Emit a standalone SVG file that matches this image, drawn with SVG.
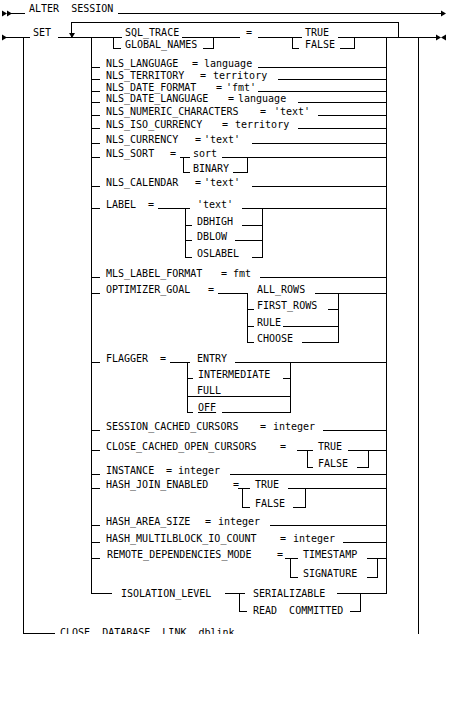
<svg xmlns="http://www.w3.org/2000/svg" xmlns:xlink="http://www.w3.org/1999/xlink" width="450" height="722" viewBox="0 0 450 722">
<style>
text{font-family:"DejaVu Sans Mono","Liberation Mono",monospace;font-size:10px;fill:#000;white-space:pre}
.c{fill:none;stroke:#000;stroke-width:1;shape-rendering:crispEdges}
.m{fill:#000;stroke:none}
</style>
<defs>
<clipPath id="clip"><rect x="0" y="0" width="450" height="634"/></clipPath>
<path id="tr" d="M0,-3 L5,0 L0,3 Z"/>
<path id="tl" d="M5,-3 L0,0 L5,3 Z"/>
<path id="td" d="M-3,0 L3,0 L0,5 Z"/>
</defs>
<rect width="450" height="722" fill="#fff"/>
<g clip-path="url(#clip)">
<g id="connectors" class="c">
<path d="M8,13.5 H25 M118,13.5 H441"/>
<path d="M6,37.5 H30 M58,37.5 H122 M182,37.5 H240 M258,37.5 H302 M338,37.5 H436"/>
<path d="M71.5,37.5 V22.5 H398.5 V37.5"/>
<path d="M23.5,37 V634 M91.5,37 V593.5 M386.5,37 V593.5 M418.5,37 V634"/>
<path d="M113.5,37.5 V48.5 H121 M203,48.5 H213.5 V37.5"/>
<path d="M292.5,37.5 V48.5 H299 M340,48.5 H354.5 V37.5"/>
<path d="M91.5,67.5 H100 M258,67.5 H386.5"/>
<path d="M91.5,79.5 H100 M278,79.5 H386.5"/>
<path d="M91.5,91.5 H100 M258,91.5 H386.5"/>
<path d="M91.5,102.5 H100 M298,102.5 H386.5"/>
<path d="M91.5,115.5 H100 M318,115.5 H386.5"/>
<path d="M91.5,128.5 H100 M298,128.5 H386.5"/>
<path d="M91.5,143.5 H100 M252,143.5 H386.5"/>
<path d="M91.5,157.5 H100 M180,157.5 H190 M222,157.5 H386.5"/>
<path d="M183.5,157.5 V172.5 H190 M233,172.5 H247.5 V157.5"/>
<path d="M91.5,186.5 H100 M252,186.5 H386.5"/>
<path d="M91.5,208.5 H100 M158,208.5 H190 M242,208.5 H386.5"/>
<path d="M185.5,208.5 V257.5 M185.5,225.5 H192 M185.5,240.5 H192 M185.5,257.5 H192"/>
<path d="M262.5,208.5 V257.5 M242,225.5 H262.5 M235,240.5 H262.5 M252,257.5 H262.5"/>
<path d="M91.5,277.5 H100 M260,277.5 H386.5"/>
<path d="M91.5,293.5 H100 M218,293.5 H248 M315,293.5 H386.5"/>
<path d="M247.5,293.5 V342.5 M247.5,309.5 H254 M247.5,326.5 H254 M247.5,342.5 H254"/>
<path d="M338.5,293.5 V342.5 M328,309.5 H338.5 M283,326.5 H338.5 M302,342.5 H338.5"/>
<path d="M91.5,362.5 H100 M170,362.5 H190 M235,362.5 H386.5"/>
<path d="M187.5,362.5 V412.5 M187.5,378.5 H193 M187.5,396.5 H290.5 M187.5,412.5 H193"/>
<path d="M290.5,362.5 V412.5 M283,378.5 H290.5 M222,412.5 H290.5"/>
<path d="M91.5,430.5 H100 M323,430.5 H386.5"/>
<path d="M91.5,450.5 H100 M297,450.5 H313 M348,450.5 H386.5"/>
<path d="M307.5,450.5 V467.5 H313 M357,467.5 H368.5 V450.5"/>
<path d="M91.5,474.5 H100 M230,474.5 H386.5"/>
<path d="M91.5,488.5 H100 M238,488.5 H250 M288,488.5 H386.5"/>
<path d="M242.5,488.5 V507.5 H250 M293,507.5 H305.5 V488.5"/>
<path d="M91.5,525.5 H100 M270,525.5 H386.5"/>
<path d="M91.5,542.5 H100 M343,542.5 H386.5"/>
<path d="M91.5,558.5 H100 M285,558.5 H298 M367,558.5 H386.5"/>
<path d="M290.5,558.5 V577.5 H298 M367,577.5 H377.5 V558.5"/>
<path d="M91.5,593.5 H112 M225,593.5 H245 M337,593.5 H386.5"/>
<path d="M239.5,593.5 V611.5 H247 M350,611.5 H360.5 V593.5"/>
<path d="M23.5,633.5 H55"/>
</g>
<g id="markers" class="m">
<use xlink:href="#tr" x="2" y="13.5"/>
<use xlink:href="#tr" x="7" y="13.5"/>
<use xlink:href="#tr" x="441" y="13.5"/>
<use xlink:href="#tr" x="2" y="37.5"/>
<use xlink:href="#td" x="72" y="33"/>
<use xlink:href="#tr" x="436" y="37.5"/>
<use xlink:href="#tl" x="441" y="37.5"/>
</g>
<g id="n-alter"><text x="29" y="12">ALTER  SESSION</text></g>
<g id="n-set"><text x="33" y="36">SET</text></g>
<g id="n-sqltrace"><text x="125" y="36">SQL_TRACE</text><text x="246" y="36">=</text><text x="305" y="36">TRUE</text></g>
<g id="n-globalnames"><text x="125" y="48">GLOBAL_NAMES</text><text x="305" y="48">FALSE</text></g>
<g id="n-nlslanguage"><text x="106" y="67">NLS_LANGUAGE</text><text x="192" y="67">=</text><text x="204" y="67">language</text></g>
<g id="n-nlsterritory"><text x="106" y="79">NLS_TERRITORY</text><text x="200" y="79">=</text><text x="213" y="79">territory</text></g>
<g id="n-nlsdateformat"><text x="106" y="91">NLS_DATE_FORMAT</text><text x="216" y="91">=</text><text x="226" y="91">'fmt'</text></g>
<g id="n-nlsdatelanguage"><text x="106" y="102">NLS_DATE_LANGUAGE</text><text x="228" y="102">=</text><text x="238" y="102">language</text></g>
<g id="n-nlsnumeric"><text x="106" y="115">NLS_NUMERIC_CHARACTERS</text><text x="260" y="115">=</text><text x="274" y="115">'text'</text></g>
<g id="n-nlsisocurrency"><text x="106" y="128">NLS_ISO_CURRENCY</text><text x="222" y="128">=</text><text x="235" y="128">territory</text></g>
<g id="n-nlscurrency"><text x="106" y="143">NLS_CURRENCY</text><text x="195" y="143">=</text><text x="204" y="143">'text'</text></g>
<g id="n-nlssort"><text x="106" y="157">NLS_SORT</text><text x="170" y="157">=</text><text x="193" y="157">sort</text><text x="193" y="172">BINARY</text></g>
<g id="n-nlscalendar"><text x="106" y="186">NLS_CALENDAR</text><text x="195" y="186">=</text><text x="204" y="186">'text'</text></g>
<g id="n-label"><text x="106" y="208">LABEL</text><text x="148" y="208">=</text><text x="197" y="208">'text'</text><text x="197" y="225">DBHIGH</text><text x="197" y="240">DBLOW</text><text x="197" y="257">OSLABEL</text></g>
<g id="n-mlslabelformat"><text x="106" y="277">MLS_LABEL_FORMAT</text><text x="221" y="277">=</text><text x="233" y="277">fmt</text></g>
<g id="n-optimizergoal"><text x="106" y="293">OPTIMIZER_GOAL</text><text x="208" y="293">=</text><text x="257" y="293">ALL_ROWS</text><text x="257" y="309">FIRST_ROWS</text><text x="257" y="326">RULE</text><text x="257" y="342">CHOOSE</text></g>
<g id="n-flagger"><text x="106" y="362">FLAGGER</text><text x="160" y="362">=</text><text x="197" y="362">ENTRY</text><text x="198" y="378">INTERMEDIATE</text><text x="197" y="394">FULL</text><text x="198" y="411" text-decoration="underline">OFF</text></g>
<g id="n-sessioncached"><text x="106" y="430">SESSION_CACHED_CURSORS</text><text x="260" y="430">=</text><text x="273" y="430">integer</text></g>
<g id="n-closecached"><text x="106" y="450">CLOSE_CACHED_OPEN_CURSORS</text><text x="280" y="450">=</text><text x="318" y="450">TRUE</text><text x="318" y="467">FALSE</text></g>
<g id="n-instance"><text x="106" y="474">INSTANCE</text><text x="166" y="474">=</text><text x="178" y="474">integer</text></g>
<g id="n-hashjoin"><text x="106" y="488">HASH_JOIN_ENABLED</text><text x="233" y="488">=</text><text x="255" y="488">TRUE</text><text x="255" y="507">FALSE</text></g>
<g id="n-hasharea"><text x="106" y="525">HASH_AREA_SIZE</text><text x="205" y="525">=</text><text x="218" y="525">integer</text></g>
<g id="n-hashmulti"><text x="106" y="542">HASH_MULTILBLOCK_IO_COUNT</text><text x="280" y="542">=</text><text x="293" y="542">integer</text></g>
<g id="n-remote"><text x="107" y="558">REMOTE_DEPENDENCIES_MODE</text><text x="277" y="558">=</text><text x="303" y="558">TIMESTAMP</text><text x="303" y="577">SIGNATURE</text></g>
<g id="n-isolation"><text x="121" y="597">ISOLATION_LEVEL</text><text x="253" y="597">SERIALIZABLE</text><text x="253" y="614">READ  COMMITTED</text></g>
<g id="n-closedblink"><text x="60" y="636">CLOSE  DATABASE  LINK  dblink</text></g>
</g>
</svg>
